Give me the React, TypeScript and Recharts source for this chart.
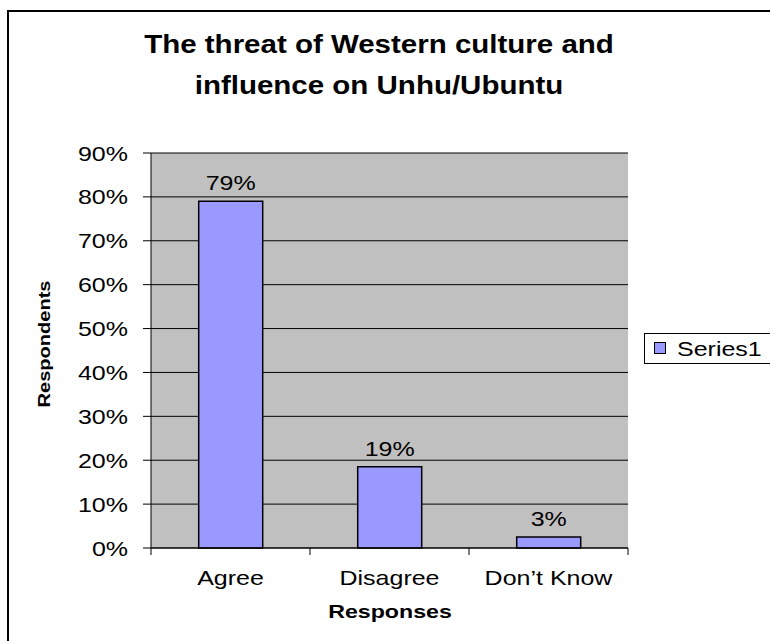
import React from "react";
import { BarChart, Bar, XAxis, YAxis, CartesianGrid, LabelList, Legend } from "recharts";

const categories = ["Agree", "Disagree", "Don\u2019t Know"];
const values = [79, 18.5, 2.5];
const yTicks = [0, 10, 20, 30, 40, 50, 60, 70, 80, 90];
const seriesName = "Series1";
const titleLines = ["The threat of Western culture and", "influence on Unhu/Ubuntu"];
const xTitle = "Responses";
const yTitle = "Respondents";

const data = categories.map((c, i) => ({ name: c, value: values[i] }));

const W = 770;
const H = 641;
const M = { top: 153, right: 142, bottom: 63, left: 91 };
const YW = 60;
const XH = 30;
const plotLeft = M.left + YW;
const plotRight = W - M.right;
const plotWidth = plotRight - plotLeft;
const band = plotWidth / categories.length;
const FONT = "'Liberation Sans', Arial, sans-serif";
const SX = 1.19;

const SText = ({ x, y, size, bold, anchor, sx, rotate, children }: any) => (
  <text
    x={0}
    y={0}
    transform={`translate(${x} ${y})${rotate ? ` rotate(${rotate})` : ""} scale(${sx ?? SX} 1)`}
    textAnchor={anchor ?? "middle"}
    fontSize={size}
    fontWeight={bold ? "bold" : "normal"}
    fontFamily={FONT}
    fill="#000"
  >
    {children}
  </text>
);

const XTick = (props: any) => {
  const { x, y, payload, index } = props;
  const left = x - band / 2;
  const right = x + band / 2;
  const axisY = 548;
  return (
    <g>
      <line x1={left} x2={left} y1={axisY} y2={axisY + 7} stroke="#000" strokeWidth={1} />
      {index === categories.length - 1 && (
        <line x1={right} x2={right} y1={axisY} y2={axisY + 7} stroke="#000" strokeWidth={1} />
      )}
      <SText x={x} y={585} size={21}>
        {payload.value}
      </SText>
    </g>
  );
};

const YTick = (props: any) => {
  const { y, payload } = props;
  return (
    <SText x={128} y={y + 7.5} size={21} anchor="end">
      {`${payload.value}%`}
    </SText>
  );
};

const BarLabel = (props: any) => {
  const { x, y, width, value } = props;
  return (
    <SText x={x + width / 2} y={y - 11} size={21}>
      {`${Math.round(value)}%`}
    </SText>
  );
};

const LegendBox = () => (
  <div
    style={{
      position: "absolute",
      left: 644,
      top: 333,
      width: 140,
      height: 31,
      border: "1px solid #000",
      background: "#fff",
      boxSizing: "border-box",
      fontFamily: FONT,
      fontSize: 21,
      lineHeight: "29px",
      whiteSpace: "nowrap",
    }}
  >
    <span
      style={{
        position: "absolute",
        left: 9,
        top: 8,
        width: 12,
        height: 12,
        background: "#9999FF",
        border: "1px solid #000",
        boxSizing: "border-box",
      }}
    />
    <span
      style={{
        position: "absolute",
        left: 32,
        top: 0,
        display: "inline-block",
        transform: `scaleX(${SX})`,
        transformOrigin: "left center",
      }}
    >
      {seriesName}
    </span>
  </div>
);

export default function App() {
  return (
    <div
      style={{
        position: "absolute",
        left: 0,
        top: 0,
        width: W,
        height: H,
        overflow: "hidden",
        background: "#fff",
      }}
    >
      <div
        style={{
          position: "absolute",
          left: 7,
          top: 10,
          width: 900,
          height: 900,
          borderLeft: "2px solid #000",
          borderTop: "2px solid #000",
        }}
      />
      <div style={{ position: "absolute", left: 0, top: 0 }}>
        <BarChart width={W} height={H} data={data} margin={M} barCategoryGap="30%">
          <CartesianGrid fill="#C0C0C0" stroke="#000" vertical={false} strokeWidth={1} />
          <XAxis
            dataKey="name"
            height={XH}
            axisLine={{ stroke: "#000" }}
            tickLine={false}
            tick={<XTick />}
            interval={0}
          />
          <YAxis
            domain={[0, 90]}
            ticks={yTicks}
            width={YW}
            tickSize={8}
            axisLine={{ stroke: "#000" }}
            tickLine={{ stroke: "#000" }}
            tick={<YTick />}
            interval={0}
          />
          <YAxis
            yAxisId="r"
            orientation="right"
            width={0}
            tick={false}
            tickLine={false}
            axisLine={{ stroke: "#808080" }}
          />
          <Legend content={<LegendBox />} wrapperStyle={{ position: "absolute", left: 0, top: 0, width: 0, height: 0 }} />
          <Bar dataKey="value" name={seriesName} fill="#9999FF" stroke="#000" strokeWidth={1.5} isAnimationActive={false}>
            <LabelList dataKey="value" content={<BarLabel />} />
          </Bar>
          <SText x={379} y={53} size={25} bold sx={1.18}>
            {titleLines[0]}
          </SText>
          <SText x={379} y={94} size={25} bold sx={1.18}>
            {titleLines[1]}
          </SText>
          <SText x={390} y={618} size={19} bold sx={1.22}>
            {xTitle}
          </SText>
          <SText x={50} y={344} size={17} bold sx={1.18} rotate={-90}>
            {yTitle}
          </SText>
        </BarChart>
      </div>
    </div>
  );
}
